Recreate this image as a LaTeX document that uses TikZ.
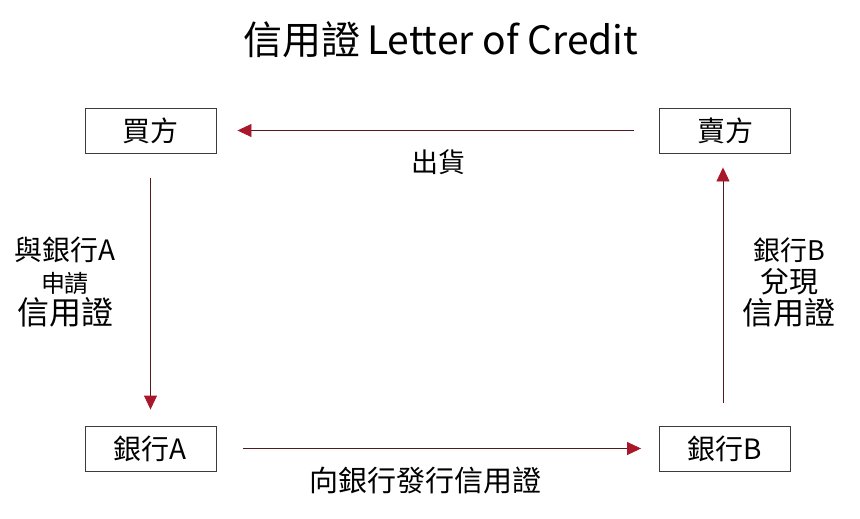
\documentclass[tikz,border=0pt]{standalone}
\usepackage{fontspec}
\setmainfont{Noto Sans CJK TC}
\usetikzlibrary{arrows.meta}
\definecolor{linered}{HTML}{4E1C20}
\definecolor{tipred}{HTML}{A8182A}
\definecolor{boxgray}{HTML}{3C3C3C}
\tikzset{
  party/.style={draw=boxgray,line width=0.9pt,minimum width=131pt,minimum height=45pt,inner sep=0pt,font=\fontsize{28}{32}\selectfont},
  flow/.style={draw=linered,line width=0.9pt,-{Triangle[length=14pt,width=13pt,color=tipred]}},
  note/.style={align=center,font=\fontsize{24}{32}\selectfont}
}
\begin{document}
\begin{tikzpicture}[x=1pt,y=-1pt]
	  \useasboundingbox (0,0) rectangle (860,519);
	  \node (title) at (441,40) {\fontsize{39}{44}\selectfont 信用證\,Letter of Credit};
	  \node[party] (buyer) at (150.5,130.5) {買方};
	  \node[party] (seller) at (725,130.5) {賣方};
	  \node[party] (bankA) at (150.5,448.5) {銀行A};
	  \node[party] (bankB) at (725,448.5) {銀行B};
	  \node[note,font=\fontsize{27}{32}\selectfont] (ship) at (438,162) {出貨};
	  \node[note] (apply) at (65,282) {{\fontsize{28}{32}\selectfont 與銀行A}\\{\fontsize{24}{32}\selectfont 申請}\\{\fontsize{32}{32}\selectfont 信用證}};
	  \node[note] (honour) at (789,282) {{\fontsize{27}{32}\selectfont 銀行B}\\{\fontsize{29}{32}\selectfont 兌現}\\{\fontsize{31}{32}\selectfont 信用證}};
	  \node[note,font=\fontsize{29}{32}\selectfont] (issue) at (425,480) {向銀行發行信用證};
	  \draw[flow,shorten <=25pt,shorten >=21pt] (seller.west) -- (buyer.east);
	  \draw[flow,shorten <=25pt,shorten >=16pt] (buyer.south) -- (bankA.north);
	  \draw[flow,shorten <=27pt,shorten >=18pt] (bankA.east) -- (bankB.west);
	  \draw[flow,shorten <=23pt,shorten >=14pt] ([xshift=-2pt]bankB.north) -- ([xshift=-2pt]seller.south);
	\end{tikzpicture}
\end{document}
